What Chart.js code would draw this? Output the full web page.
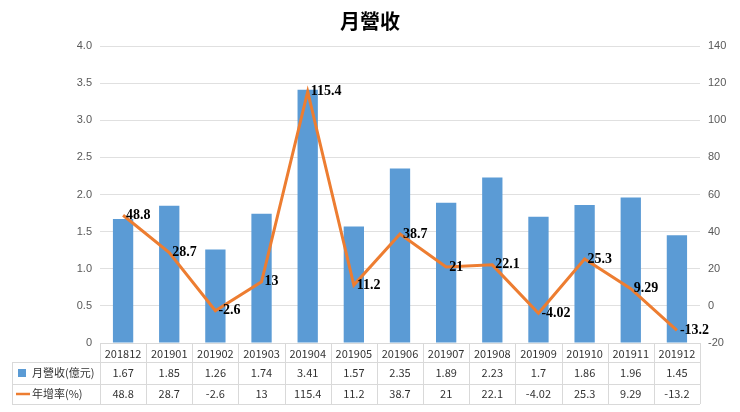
<!DOCTYPE html>
<html><head><meta charset="utf-8">
<script src="https://cdn.jsdelivr.net/npm/chart.js@4"></script>
<style>body{margin:0;background:#fff}#w{width:740px;height:412px}</style>
</head><body><div id="w"><canvas id="c"></canvas></div>
<script>
const categories=['201812','201901','201902','201903','201904','201905','201906','201907','201908','201909','201910','201911','201912'];
const revenue=[1.67,1.85,1.26,1.74,3.41,1.57,2.35,1.89,2.23,1.7,1.86,1.96,1.45];
const growth=[48.8,28.7,-2.6,13,115.4,11.2,38.7,21,22.1,-4.02,25.3,9.29,-13.2];
const barName='月營收(億元)', lineName='年增率(%)';
const BLUE='#5B9BD5', ORANGE='#ED7D31';
const font="'Noto Sans CJK TC','Noto Sans',sans-serif";
const tablePlugin={id:'tbl',afterDraw(ch){
 const c=ch.ctx,a=ch.chartArea,x=ch.scales.x;
 c.save();
 c.fillStyle='#000';c.font="bold 20px "+font;c.textAlign='center';c.textBaseline='middle';
 c.fillText('月營收',370,21);
 // line labels
 c.font="bold 14px 'Liberation Serif',serif";c.textAlign='left';
 const m=ch.getDatasetMeta(1);
 m.data.forEach((p,i)=>c.fillText(String(growth[i]),p.x+3,p.y));
 // table
 const rows=[a.bottom,a.bottom+19,a.bottom+41,a.bottom+61];
 const L=12,R=a.right; const w=(a.right-a.left)/categories.length;
 c.strokeStyle='#d9d9d9';c.lineWidth=1;c.beginPath();
 [rows[1],rows[2],rows[3]].forEach(y=>{c.moveTo(L,y+.5);c.lineTo(R,y+.5);});
 c.moveTo(a.left,rows[0]);c.lineTo(a.left,rows[0]+0);
 for(let i=0;i<=categories.length;i++){const xx=Math.round(a.left+i*w)+.5;c.moveTo(xx,rows[0]);c.lineTo(xx,rows[3]);}
 c.moveTo(L+.5,rows[1]);c.lineTo(L+.5,rows[3]);
 c.stroke();
 c.font="11px "+font;c.textAlign='center';c.fillStyle='#333';
 categories.forEach((t,i)=>{const cx=x.getPixelForValue(i);
  c.fillText(t,cx,(rows[0]+rows[1])/2+1);
  c.fillText(String(revenue[i]),cx,(rows[1]+rows[2])/2);
  c.fillText(String(growth[i]),cx,(rows[2]+rows[3])/2);});
 c.textAlign='left';
 c.fillStyle=BLUE;c.fillRect(18,(rows[1]+rows[2])/2-4,8,8);
 c.strokeStyle=ORANGE;c.lineWidth=2.5;c.beginPath();c.moveTo(16,(rows[2]+rows[3])/2);c.lineTo(30,(rows[2]+rows[3])/2);c.stroke();
 c.fillStyle='#333';
 c.fillText(barName,32,(rows[1]+rows[2])/2);
 c.fillText(lineName,32,(rows[2]+rows[3])/2);
 c.restore();}};
new Chart(document.getElementById('c'),{
 data:{labels:categories,datasets:[
  {type:'bar',label:barName,data:revenue,backgroundColor:BLUE,yAxisID:'y',categoryPercentage:0.8,barPercentage:0.55,order:2},
  {type:'line',label:lineName,data:growth,borderColor:ORANGE,borderWidth:3,pointRadius:0,yAxisID:'y1',tension:0,order:1}]},
 options:{responsive:true,maintainAspectRatio:false,animation:false,
  layout:{padding:{left:10,right:0,top:46,bottom:69}},
  plugins:{legend:{display:false},tooltip:{enabled:false}},
  scales:{
   x:{grid:{display:true,drawTicks:false,color:'transparent'},border:{color:'#d9d9d9'},ticks:{display:false},afterFit(s){s.height=0;}},
   y:{position:'left',min:0,max:4,ticks:{stepSize:0.5,color:'#595959',font:{size:11},padding:8},grid:{color:'#e0e0e0',drawTicks:false},border:{display:false},afterFit(s){s.width=90;}},
   y1:{position:'right',min:-20,max:140,ticks:{stepSize:20,color:'#595959',font:{size:11},padding:8},grid:{display:false,drawTicks:false},border:{display:false},afterFit(s){s.width=40;}}
  }},
 plugins:[tablePlugin]});
</script></body></html>
